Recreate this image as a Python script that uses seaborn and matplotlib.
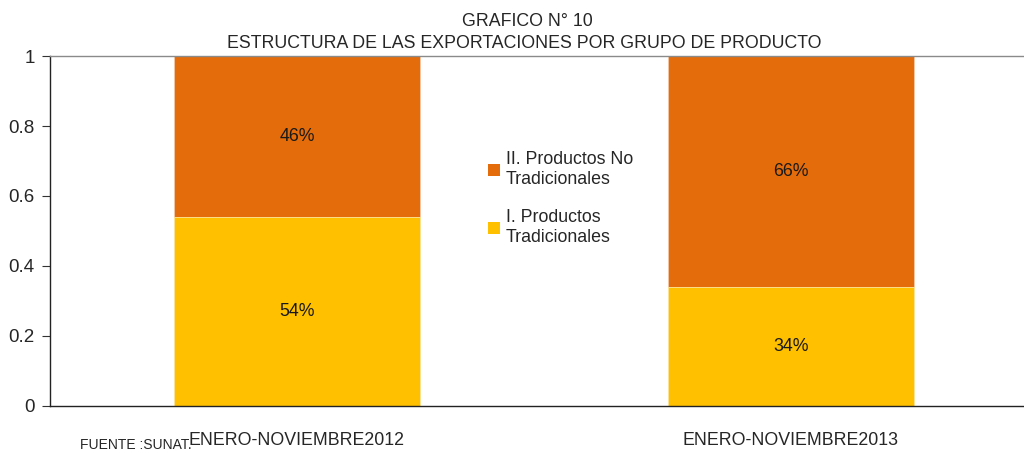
import matplotlib
matplotlib.use("Agg")
import matplotlib.pyplot as plt
import seaborn as sns
import pandas as pd
from matplotlib.patches import Patch

categories = ["ENERO-NOVIEMBRE2012", "ENERO-NOVIEMBRE2013"]
tradicionales = [0.54, 0.34]
no_tradicionales = [0.46, 0.66]
series_names = ["II. Productos No\nTradicionales", "I. Productos\nTradicionales"]
yticks = [0, 0.2, 0.4, 0.6, 0.8, 1]
ytick_labels = ["0", "0.2", "0.4", "0.6", "0.8", "1"]

c_no = "#E46C0A"
c_tr = "#FFC000"

sns.set_style("white")
plt.rcParams['font.family'] = ['Liberation Sans', 'DejaVu Sans']

df = pd.DataFrame({
    "cat": categories,
    "trad": tradicionales,
    "total": [a + b for a, b in zip(tradicionales, no_tradicionales)],
})

fig = plt.figure(figsize=(10.24, 4.53), dpi=100)
ax = fig.add_axes([50/1024, 47/453, 988/1024, 350/453])

sns.barplot(data=df, x="cat", y="total", color=c_no, saturation=1, width=0.497,
            edgecolor="#F3C9A6", linewidth=0.6, ax=ax)
sns.barplot(data=df, x="cat", y="trad", color=c_tr, saturation=1, width=0.497,
            edgecolor="#FFE9A0", linewidth=0.6, ax=ax)

fs = 12.8
for i, (t, n) in enumerate(zip(tradicionales, no_tradicionales)):
    ax.text(i, t / 2, f"{round(t*100)}%", ha="center", va="center", fontsize=fs, color="#1a1a1a")
    ax.text(i, t + n / 2, f"{round(n*100)}%", ha="center", va="center", fontsize=fs, color="#1a1a1a")

ax.set_xlim(-0.5, 1.5)
ax.set_ylim(0, 1)
ax.set_yticks(yticks)
ax.set_yticklabels(ytick_labels, fontsize=13.5)
ax.set_xlabel("")
ax.set_ylabel("")
ax.set_xticks([0, 1])
ax.set_xticklabels(categories, fontsize=fs)
ax.tick_params(axis="x", which="major", length=0, pad=19)
ax.set_xticks([-0.5, 0.5, 1.5], minor=True)
ax.tick_params(axis="x", which="minor", length=5, width=0.8, color="#333333", direction="out")
ax.tick_params(axis="y", length=6, width=0.8, color="#333333", direction="out", pad=5, left=True)

for s in ["left", "bottom"]:
    ax.spines[s].set_color("#222222")
    ax.spines[s].set_linewidth(1)
ax.spines["top"].set_color("#8a8a8a")
ax.spines["top"].set_linewidth(1)
ax.spines["right"].set_visible(False)

handles = [Patch(facecolor=c_no, edgecolor="none"), Patch(facecolor=c_tr, edgecolor="none")]
fig.legend(handles, series_names, loc="upper left", bbox_to_anchor=(481/1024, 1 - 144/453),
           frameon=False, fontsize=fs, handlelength=0.65, handleheight=0.65,
           handletextpad=0.35, labelspacing=1.2, borderaxespad=0)

fig.text(527/1024, 1 - 21/453, "GRAFICO N° 10", ha="center", va="center", fontsize=fs)
fig.text(524/1024, 1 - 44/453, "ESTRUCTURA DE LAS EXPORTACIONES POR GRUPO DE PRODUCTO",
         ha="center", va="center", fontsize=fs)
fig.text(80/1024, 1/453, "FUENTE :SUNAT.", ha="left", va="bottom", fontsize=10)

fig.savefig("out.png", dpi=100)
